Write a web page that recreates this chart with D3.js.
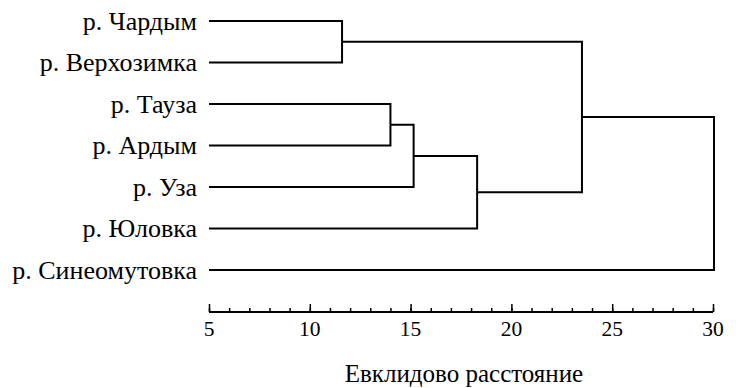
<!DOCTYPE html>
<html><head><meta charset="utf-8">
<script src="https://cdn.jsdelivr.net/npm/d3@7"></script>
<style>body{margin:0;background:#fff}svg{display:block}</style>
</head><body>
<svg id="c" width="741" height="388"></svg>
<script>
const leaves = ["р. Чардым","р. Верхозимка","р. Тауза","р. Ардым","р. Уза","р. Юловка","р. Синеомутовка"];
// linkage: node ids 0..6 are leaves, new clusters get ids 7,8,...
const mergeA = [0, 2, 8, 9, 7, 11];
const mergeB = [1, 3, 4, 5, 10, 6];
const mergeH = [11.6, 14.0, 15.15, 18.3, 23.5, 30.05];
const majorTicks = [5, 10, 15, 20, 25, 30];
const xTitle = "Евклидово расстояние";

const FONT = '"Liberation Serif", "Times New Roman", "Tinos", "DejaVu Serif", serif';
const svg = d3.select("#c");
const x = d3.scaleLinear().domain([5, 30]).range([209, 713]);
const y = d3.scalePoint().domain(leaves).range([21, 270]);

const pos = leaves.map(l => ({x: x.domain()[0], y: y(l)}));
const g = svg.append("g").attr("fill", "none").attr("stroke", "#000").attr("stroke-width", 2);
mergeA.forEach((a, i) => {
  const b = mergeB[i], h = mergeH[i];
  const A = pos[a], B = pos[b];
  const path = d3.path();
  path.moveTo(x(A.x), A.y); path.lineTo(x(h), A.y); path.lineTo(x(h), B.y); path.lineTo(x(B.x), B.y);
  g.append("path").attr("d", path.toString()).attr("stroke-linejoin", "miter");
  pos.push({x: h, y: (A.y + B.y) / 2});
});

svg.selectAll("text.leaf").data(leaves).join("text").attr("class", "leaf")
  .attr("x", 197).attr("y", d => y(d)).attr("dy", "0.34em")
  .attr("text-anchor", "end").style("font-family", FONT).style("font-size", "26px").text(d => d);

const axisY = 312;
const ax = svg.append("g").attr("transform", `translate(0,${axisY})`)
  .call(d3.axisTop(x).tickValues(d3.range(5, 31, 1)).tickSize(4).tickFormat(""));
ax.select(".domain").attr("d", `M${x(5)},0H${x(30)}`).attr("stroke-width", 2);
ax.selectAll(".tick line").attr("stroke-width", 1.5);
const ax2 = svg.append("g").attr("transform", `translate(0,${axisY})`)
  .call(d3.axisTop(x).tickValues(majorTicks).tickSize(8).tickFormat(""));
ax2.select(".domain").remove();
ax2.selectAll(".tick line").attr("stroke-width", 1.5);

svg.selectAll("text.tl").data(majorTicks).join("text").attr("class", "tl")
  .attr("x", d => x(d)).attr("y", 336).attr("text-anchor", "middle")
  .style("font-family", FONT).style("font-size", "21.5px").text(d => d);

svg.append("text").attr("x", 464).attr("y", 382).attr("text-anchor", "middle")
  .style("font-family", FONT).style("font-size", "25px").text(xTitle);
</script>
</body></html>
